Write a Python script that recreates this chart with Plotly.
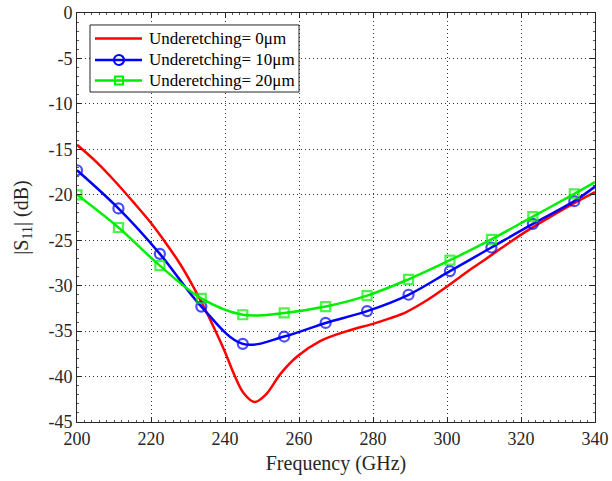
import plotly.graph_objects as go

# Red: Underetching = 0 um (line only)
red_f = [200, 205, 210, 215, 220, 224, 228, 231, 234, 237, 240, 242.5, 245, 248, 251,
         255, 259.5, 265.7, 273, 280, 284.5, 289, 295, 300, 305, 310, 316, 321.5, 328, 334, 340]
red_db = [-14.5, -16.3, -18.4, -20.7, -23.1, -25.3, -27.7, -29.8, -32.1, -34.6, -37.3,
          -39.8, -41.8, -42.8, -42.0, -39.7, -37.8, -36.1, -35.0, -34.2, -33.6, -32.9,
          -31.5, -30.1, -28.6, -27.2, -25.5, -24.0, -22.4, -21.0, -19.7]

# Marker frequencies (blue and green), plus end point at 340
mk_f = [200, 211.2, 222.4, 233.6, 244.8, 256, 267.2, 278.4, 289.6, 300.8, 312, 323.2, 334.4, 340]
blue_db = [-17.3, -21.5, -26.5, -32.3, -36.4, -35.6, -34.1, -32.8, -31.0, -28.4, -25.8,
           -23.2, -20.7, -19.1]
green_db = [-20.0, -23.6, -27.8, -31.4, -33.2, -33.0, -32.3, -31.1, -29.3, -27.2, -24.9,
            -22.4, -19.9, -18.6]

names = ["Underetching= 0μm", "Underetching= 10μm", "Underetching= 20μm"]
colors = ["#ff0000", "#0000ff", "#00ee00"]
x_ticks = [200, 220, 240, 260, 280, 300, 320, 340]
y_ticks = [0, -5, -10, -15, -20, -25, -30, -35, -40, -45]

FONT = "Liberation Serif, Times New Roman, serif"
AX = "#262626"
msizes = [10] * (len(mk_f) - 1) + [0]

fig = go.Figure()
fig.add_trace(go.Scatter(x=red_f, y=red_db, mode="lines", name=names[0], showlegend=False,
                         line=dict(color=colors[0], width=2.5, shape="spline", smoothing=1.0)))
fig.add_trace(go.Scatter(x=mk_f, y=blue_db, mode="lines+markers", name=names[1], showlegend=False,
                         line=dict(color=colors[1], width=2.5, shape="spline", smoothing=1.0),
                         marker=dict(symbol="circle-open", size=msizes, color=colors[1],
                                     line=dict(width=2.2, color=colors[1]))))
fig.add_trace(go.Scatter(x=mk_f, y=green_db, mode="lines+markers", name=names[2], showlegend=False,
                         line=dict(color=colors[2], width=2.5, shape="spline", smoothing=1.0),
                         marker=dict(symbol="square-open", size=[s * 0.9 for s in msizes], color=colors[2],
                                     line=dict(width=2.2, color=colors[2]))))

axis_common = dict(
    showline=True, linecolor=AX, linewidth=1, mirror="ticks",
    ticks="inside", ticklen=5, tickcolor=AX,
    showgrid=True, gridcolor="#333333", griddash="1px,3px", gridwidth=1,
    zeroline=False, automargin=False,
    tickfont=dict(family=FONT, size=18, color=AX),
)

fig.update_xaxes(range=[200, 340], tickvals=x_ticks, ticktext=[str(v) for v in x_ticks],
                 title=dict(text="Frequency (GHz)", font=dict(family=FONT, size=20, color=AX),
                            standoff=8),
                 minor=dict(ticks="inside", ticklen=2, dtick=2, tickcolor="#555555", showgrid=False),
                 **axis_common)
fig.update_yaxes(range=[-45, 0], tickvals=y_ticks, ticktext=[str(v) for v in y_ticks],
                 title=dict(text="|S<sub>11</sub>| (dB)", font=dict(family=FONT, size=20, color=AX),
                            standoff=14),
                 minor=dict(ticks="inside", ticklen=2, dtick=1, tickcolor="#555555", showgrid=False),
                 **axis_common)

# Custom legend (paper coordinates of plot area)
box = dict(x0=0.0251, x1=0.4286, y0=0.8068, y1=0.9707)
fig.add_shape(type="rect", xref="paper", yref="paper", **box,
              line=dict(color=AX, width=1), fillcolor="white", layer="above")
row_y = [0.9377, 0.8851, 0.8350]
line_x = (0.0347, 0.1255)
mark_x = 0.0811
text_x = 0.1351
for i, (nm, c) in enumerate(zip(names, colors)):
    fig.add_shape(type="line", xref="paper", yref="paper", x0=line_x[0], x1=line_x[1],
                  y0=row_y[i], y1=row_y[i], line=dict(color=c, width=2.5), layer="above")
    fig.add_annotation(x=text_x, y=row_y[i], xref="paper", yref="paper", text=nm,
                       showarrow=False, xanchor="left", yanchor="middle",
                       font=dict(family=FONT, size=17, color="#000000"))
# legend markers
fig.add_shape(type="circle", xref="paper", yref="paper", xsizemode="pixel", ysizemode="pixel",
              xanchor=mark_x, yanchor=row_y[1], x0=-5, x1=5, y0=-5, y1=5,
              line=dict(color=colors[1], width=2.2), fillcolor="rgba(0,0,0,0)", layer="above")
fig.add_shape(type="rect", xref="paper", yref="paper", xsizemode="pixel", ysizemode="pixel",
              xanchor=mark_x, yanchor=row_y[2], x0=-4, x1=4, y0=-4, y1=4,
              line=dict(color=colors[2], width=2.2), fillcolor="rgba(0,0,0,0)", layer="above")

fig.update_layout(
    width=612, height=481,
    margin=dict(l=77, r=17, t=13, b=59),
    paper_bgcolor="white", plot_bgcolor="white",
    font=dict(family=FONT, color="#000000"),
    showlegend=False,
)

fig.write_html("out.html", config={"displayModeBar": False},
               post_script="document.body.style.margin='0px';")
